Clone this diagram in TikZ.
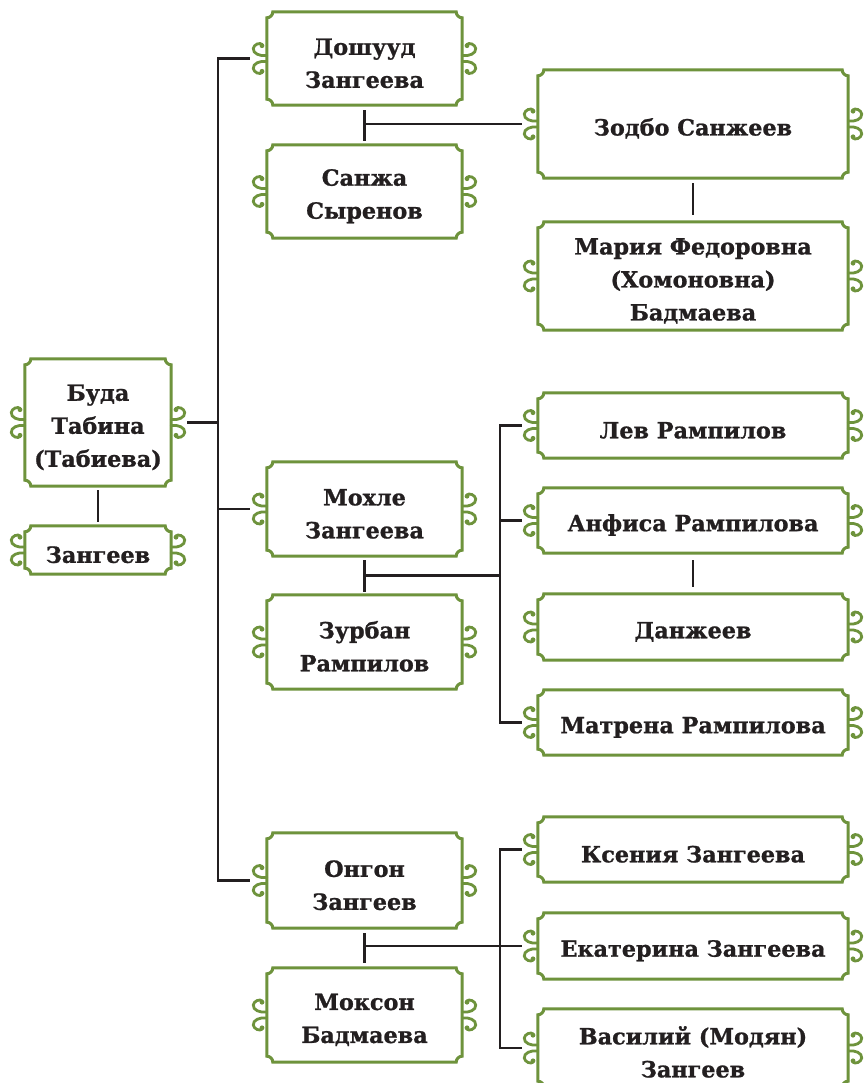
\documentclass[tikz,border=0pt]{standalone}
\usepackage{fontspec}
\setmainfont{DejaVu Serif}[BoldFeatures={FakeBold=1.0}]
\usetikzlibrary{calc}
\definecolor{frameg}{RGB}{110,147,60}
\definecolor{ink}{RGB}{35,31,32}
\newcommand\lift{\rule{0pt}{26pt}}
\tikzset{
  person/.style={inner sep=0pt, align=center, text=ink, font=\fontsize{22.3}{33}\selectfont\bfseries},
  colA/.style={person, minimum width=146pt},
  colB/.style={person, minimum width=195pt},
  colC/.style={person, minimum width=310pt},
  frameline/.style={draw=frameg, line width=3pt},
  swirlline/.style={draw=frameg, line width=2.8pt, line cap=round},
  conn/.style={draw=ink, line width=2.8pt},
  curl/.pic={
    \foreach \s in {1,-1}{
      \begin{scope}[yscale=\s]
        \draw[swirlline] (0,3) .. controls (-7,2) and (-14,5) .. (-13.5,10)
          .. controls (-13,14) and (-7,16.5) .. (-4.5,14);
        \fill[frameg] (-4.8,12.8) circle (2.4);
      \end{scope}
    }
  }
}
\newcommand\fancyframe[1]{%
  \path (#1.north west) coordinate (fnw) (#1.south east) coordinate (fse);
  \draw[frameline] let \p1=(fnw), \p2=(fse) in
    (\x1,\y1-6pt) arc[start angle=270,end angle=360,radius=6pt]
    -- (\x2-6pt,\y1) arc[start angle=180,end angle=270,radius=6pt]
    -- (\x2,\y2+6pt) arc[start angle=90,end angle=180,radius=6pt]
    -- (\x1+6pt,\y2) arc[start angle=0,end angle=90,radius=6pt] -- cycle;
  \pic at (#1.west) {curl};
  \pic[xscale=-1] at (#1.east) {curl};
}
\begin{document}
\begin{tikzpicture}[x=1pt,y=1pt]
\useasboundingbox (0,-1083) rectangle (864,0);
\clip (0,-1083) rectangle (864,0);
\fill[white] (0,-1083) rectangle (864,0);

% left column
\node[colA, minimum height=127pt] (buda) at (98,-422.5) {\lift Буда\\Табина\\(Табиева)};
\node[colA, minimum height=48pt] (zangeev) at (98,-550) {\lift Зангеев};

% middle column
\node[colB, minimum height=93pt] (doshuud) at (364.5,-58.5) {\lift Дошууд\\Зангеева};
\node[colB, minimum height=93pt] (sanzha) at (364.5,-191.5) {\lift Санжа\\Сыренов};
\node[colB, minimum height=94pt] (mohle) at (364.5,-509) {\lift Мохле\\Зангеева};
\node[colB, minimum height=94pt] (zurban) at (364.5,-642) {\lift Зурбан\\Рампилов};
\node[colB, minimum height=95pt] (ongon) at (364.5,-880.5) {\lift Онгон\\Зангеев};
\node[colB, minimum height=94pt] (mokson) at (364.5,-1015) {\lift Моксон\\Бадмаева};

% right column
\node[colC, minimum height=108pt] (zodbo) at (693,-124) {\lift Зодбо Санжеев};
\node[colC, minimum height=108pt] (maria) at (693,-276) {\lift Мария Федоровна\\(Хомоновна)\\Бадмаева};
\node[colC, minimum height=65pt] (lev) at (693,-425.5) {\lift Лев Рампилов};
\node[colC, minimum height=65pt] (anfisa) at (693,-520.5) {\lift Анфиса Рампилова};
\node[colC, minimum height=66pt] (danzheev) at (693,-627) {\lift Данжеев};
\node[colC, minimum height=65pt] (matrena) at (693,-722.5) {\lift Матрена Рампилова};
\node[colC, minimum height=65pt] (ksenia) at (693,-849.5) {\lift Ксения Зангеева};
\node[colC, minimum height=66pt] (ekaterina) at (693,-946) {\lift Екатерина Зангеева};
\node[colC, minimum height=78pt] (vasily) at (693,-1048) {\lift Василий (Модян)\\Зангеев};

\foreach \who in {buda,zangeev,doshuud,sanzha,mohle,zurban,ongon,mokson,
  zodbo,maria,lev,anfisa,danzheev,matrena,ksenia,ekaterina,vasily}
  {\fancyframe{\who}}

% connectors
\coordinate (spine) at (218,0);
\coordinate (bus) at (500,0);

\draw[conn] ([xshift=16pt]buda.east) -- (buda.east -| spine);
\draw[conn] ([xshift=-17pt]doshuud.west) -| (spine |- ongon.west) -- ([xshift=-17pt]ongon.west);
\draw[conn] (mohle.west -| spine) -- ([xshift=-17pt]mohle.west);
\draw[conn] ([yshift=-4pt]buda.south) -- ([yshift=4pt]zangeev.north);

\draw[conn] ([yshift=-5pt]doshuud.south) -- ([yshift=4pt]sanzha.north);
\draw[conn] (doshuud.south |- zodbo.west) -- ([xshift=-16pt]zodbo.west);
\draw[conn] ([yshift=-5pt]zodbo.south) -- ([yshift=7pt]maria.north);

\draw[conn] ([yshift=-4pt]mohle.south) -- ([yshift=3pt]zurban.north);
\coordinate (m2) at ($(mohle.south)!0.5!(zurban.north)$);
\draw[conn] (m2) -- (m2 -| bus);
\draw[conn] ([xshift=-16pt]lev.west) -| (bus |- matrena.west) -- ([xshift=-16pt]matrena.west);
\draw[conn] (anfisa.west -| bus) -- ([xshift=-16pt]anfisa.west);
\draw[conn] ([yshift=-7pt]anfisa.south) -- ([yshift=7pt]danzheev.north);

\draw[conn] ([yshift=-5pt]ongon.south) -- ([yshift=5pt]mokson.north);
\draw[conn] (ongon.south |- ekaterina.west) -- ([xshift=-16pt]ekaterina.west);
\draw[conn] ([xshift=-16pt]ksenia.west) -| (bus |- vasily.west) -- ([xshift=-16pt]vasily.west);
\end{tikzpicture}
\end{document}
